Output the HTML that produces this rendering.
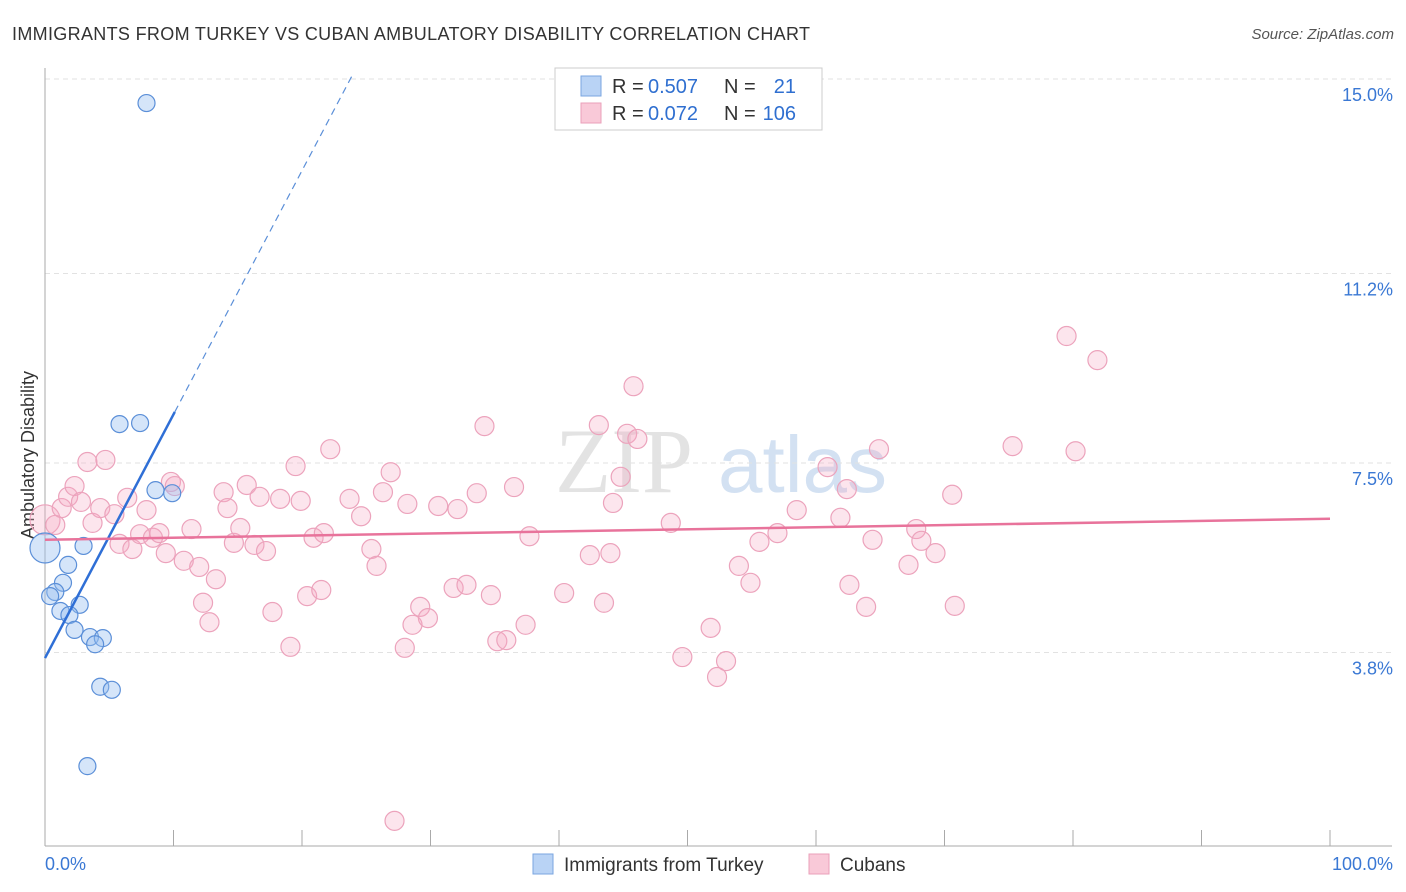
<!DOCTYPE html>
<html><head><meta charset="utf-8"><style>
body{margin:0;background:#fff;font-family:"Liberation Sans",sans-serif;}
svg{display:block}
</style></head><body>
<svg id="chart" width="1406" height="892">
<text x="12" y="40" font-size="18" fill="#333" textLength="798">IMMIGRANTS FROM TURKEY VS CUBAN AMBULATORY DISABILITY CORRELATION CHART</text>
<text x="1394" y="39" font-size="15" fill="#555" text-anchor="end" font-style="italic">Source: ZipAtlas.com</text>
<text transform="translate(34,455) rotate(-90)" font-size="18" fill="#333" text-anchor="middle">Ambulatory Disability</text>
<g><text x="555" y="492" font-size="92" fill="#ddd" font-family="Liberation Serif,serif" opacity="0.8">ZIP</text><text x="718" y="492" font-size="80" fill="#c9daf0" opacity="0.8">atlas</text></g>
<g id="grid"></g><g id="axes"></g><g id="pts"></g><g id="lines"></g>
<g>
<rect x="555" y="68" width="267" height="62" fill="#fff" stroke="#ccc"/>
<rect x="581" y="76" width="20" height="20" fill="#b9d3f5" stroke="#7aa6e0"/>
<rect x="581" y="103" width="20" height="20" fill="#f9c9d8" stroke="#eaa0ba"/>
<text x="612" y="93" font-size="20" fill="#333">R =</text>
<text x="648" y="93" font-size="20" fill="#2f6fd0">0.507</text>
<text x="724" y="93" font-size="20" fill="#333">N =</text>
<text x="796" y="93" font-size="20" fill="#2f6fd0" text-anchor="end">21</text>
<text x="612" y="120" font-size="20" fill="#333">R =</text>
<text x="648" y="120" font-size="20" fill="#2f6fd0">0.072</text>
<text x="724" y="120" font-size="20" fill="#333">N =</text>
<text x="796" y="120" font-size="20" fill="#2f6fd0" text-anchor="end">106</text>
</g>
<g>
<rect x="533" y="854" width="20" height="20" fill="#b9d3f5" stroke="#7aa6e0"/>
<text x="564" y="871" font-size="19" fill="#333">Immigrants from Turkey</text>
<rect x="809" y="854" width="20" height="20" fill="#f9c9d8" stroke="#eaa0ba"/>
<text x="840" y="871" font-size="19" fill="#333">Cubans</text>
</g>
</svg>
<script>
const yTicks=[3.8,7.5,11.2,15.0];
const yTickLabels=["3.8%","7.5%","11.2%","15.0%"];
const xTickLabels=["0.0%","100.0%"];
const turkeyX=[7.9,5.8,7.4,8.6,9.9,0,3.0,1.8,1.4,0.8,0.4,1.2,2.7,1.9,2.3,3.5,4.5,3.9,4.3,5.2,3.3];
const turkeyY=[14.53,8.26,8.28,6.97,6.91,5.84,5.88,5.51,5.16,4.98,4.90,4.61,4.73,4.53,4.24,4.10,4.08,3.96,3.13,3.07,1.58];
const cubaX=[0,0.8,1.3,1.8,2.3,2.8,3.3,3.7,4.3,4.7,5.4,5.8,6.4,6.8,7.4,7.9,8.4,8.9,9.4,9.8,10.1,10.8,11.4,12.0,12.3,12.8,13.3,13.9,14.2,14.7,15.2,15.7,16.3,16.7,17.2,17.7,18.3,19.1,19.5,19.9,20.4,20.9,21.5,21.7,22.2,23.7,24.6,25.4,25.8,26.3,26.9,27.2,28.0,28.2,28.6,29.2,29.8,30.6,31.8,32.1,32.8,33.6,34.2,34.7,35.2,35.9,36.5,37.4,37.7,40.4,42.4,43.1,43.5,44.0,44.2,44.8,45.3,45.8,46.1,48.7,49.6,51.8,52.3,53.0,54.0,54.9,55.6,57.0,58.5,60.9,61.9,62.4,62.6,63.9,64.4,64.9,67.2,67.8,68.2,69.3,70.6,70.8,75.3,79.5,80.2,81.9];
const cubaY=[6.39,6.29,6.62,6.84,7.05,6.74,7.52,6.33,6.62,7.56,6.50,5.92,6.82,5.82,6.11,6.58,6.04,6.13,5.74,7.13,7.05,5.59,6.21,5.47,4.77,4.39,5.23,6.93,6.62,5.94,6.23,7.07,5.90,6.84,5.78,4.59,6.80,3.91,7.44,6.76,4.90,6.04,5.02,6.13,7.77,6.80,6.46,5.82,5.49,6.93,7.32,0.51,3.89,6.70,4.34,4.69,4.47,6.66,5.06,6.60,5.12,6.91,8.22,4.92,4.02,4.04,7.03,4.34,6.07,4.96,5.70,8.24,4.77,5.74,6.72,7.23,8.07,9.00,7.97,6.33,3.71,4.28,3.32,3.63,5.49,5.16,5.96,6.13,6.58,7.42,6.43,6.99,5.12,4.69,6.00,7.77,5.51,6.21,5.98,5.74,6.88,4.71,7.83,9.98,7.73,9.51];
const turkeyFit=[3.69,0.476];
const cubaFit=[6.0,0.0041];
const NS="http://www.w3.org/2000/svg";
const X=v=>45+v*12.85, Y=v=>847-v*51.2;
function mk(t,a,p){const e=document.createElementNS(NS,t);for(const k in a)e.setAttribute(k,a[k]);p.appendChild(e);return e;}
const grid=document.getElementById('grid'),axes=document.getElementById('axes'),pts=document.getElementById('pts'),lines=document.getElementById('lines');
yTicks.forEach((v,i)=>{
 const l=mk('line',{x1:45,x2:1392,y1:Y(v),y2:Y(v),stroke:'#e2e2e2','stroke-dasharray':'5,4'},grid);
 
 
 const t=mk('text',{x:1393,y:Y(v)+22,'font-size':18,fill:'#3a78d4','text-anchor':'end'},axes);
 t.textContent=yTickLabels[i];
 
 
});
const ax=mk('line',{x1:45,x2:45,y1:68,y2:846,stroke:'#aaa'},axes);


const bx=mk('line',{x1:45,x2:1392,y1:846,y2:846,stroke:'#aaa'},axes);


for(let i=1;i<=10;i++){const tk=mk('line',{x1:X(i*10),x2:X(i*10),y1:830,y2:846,stroke:'#aaa'},axes);
 
 }
[[45,'start'],[1393,'end']].forEach((p,i)=>{const t=mk('text',{x:p[0],y:870,'font-size':18,fill:'#3a78d4','text-anchor':p[1]},axes);t.textContent=xTickLabels[i];
 
 });
cubaX.forEach((x,i)=>{const c=mk('circle',{cx:X(x),cy:Y(cubaY[i]),r:i==0?15:9.5,fill:'rgba(246,170,196,0.3)',stroke:'#eca3bc','stroke-width':1.2},pts);
 
 });
turkeyX.forEach((x,i)=>{const c=mk('circle',{cx:X(x),cy:Y(turkeyY[i]),r:i==5?15:8.5,fill:'rgba(150,190,240,0.4)',stroke:'#5b8fd8','stroke-width':1.2},pts);
 
 });
const bl=mk('line',{x1:X(0),y1:Y(turkeyFit[0]),x2:X(10.1),y2:Y(turkeyFit[0]+turkeyFit[1]*10.1),stroke:'#2f6fd6','stroke-width':2.5},lines);


const xe=(15.1-turkeyFit[0])/turkeyFit[1];
const bd=mk('line',{x1:X(10.1),y1:Y(turkeyFit[0]+turkeyFit[1]*10.1),x2:X(xe),y2:Y(15.1),stroke:'#5b8fd8','stroke-width':1.2,'stroke-dasharray':'7,5'},lines);


const pl=mk('line',{x1:X(0),y1:Y(cubaFit[0]),x2:X(100),y2:Y(cubaFit[0]+cubaFit[1]*100),stroke:'#e8739b','stroke-width':2.5},lines);


</script>
</body></html>
